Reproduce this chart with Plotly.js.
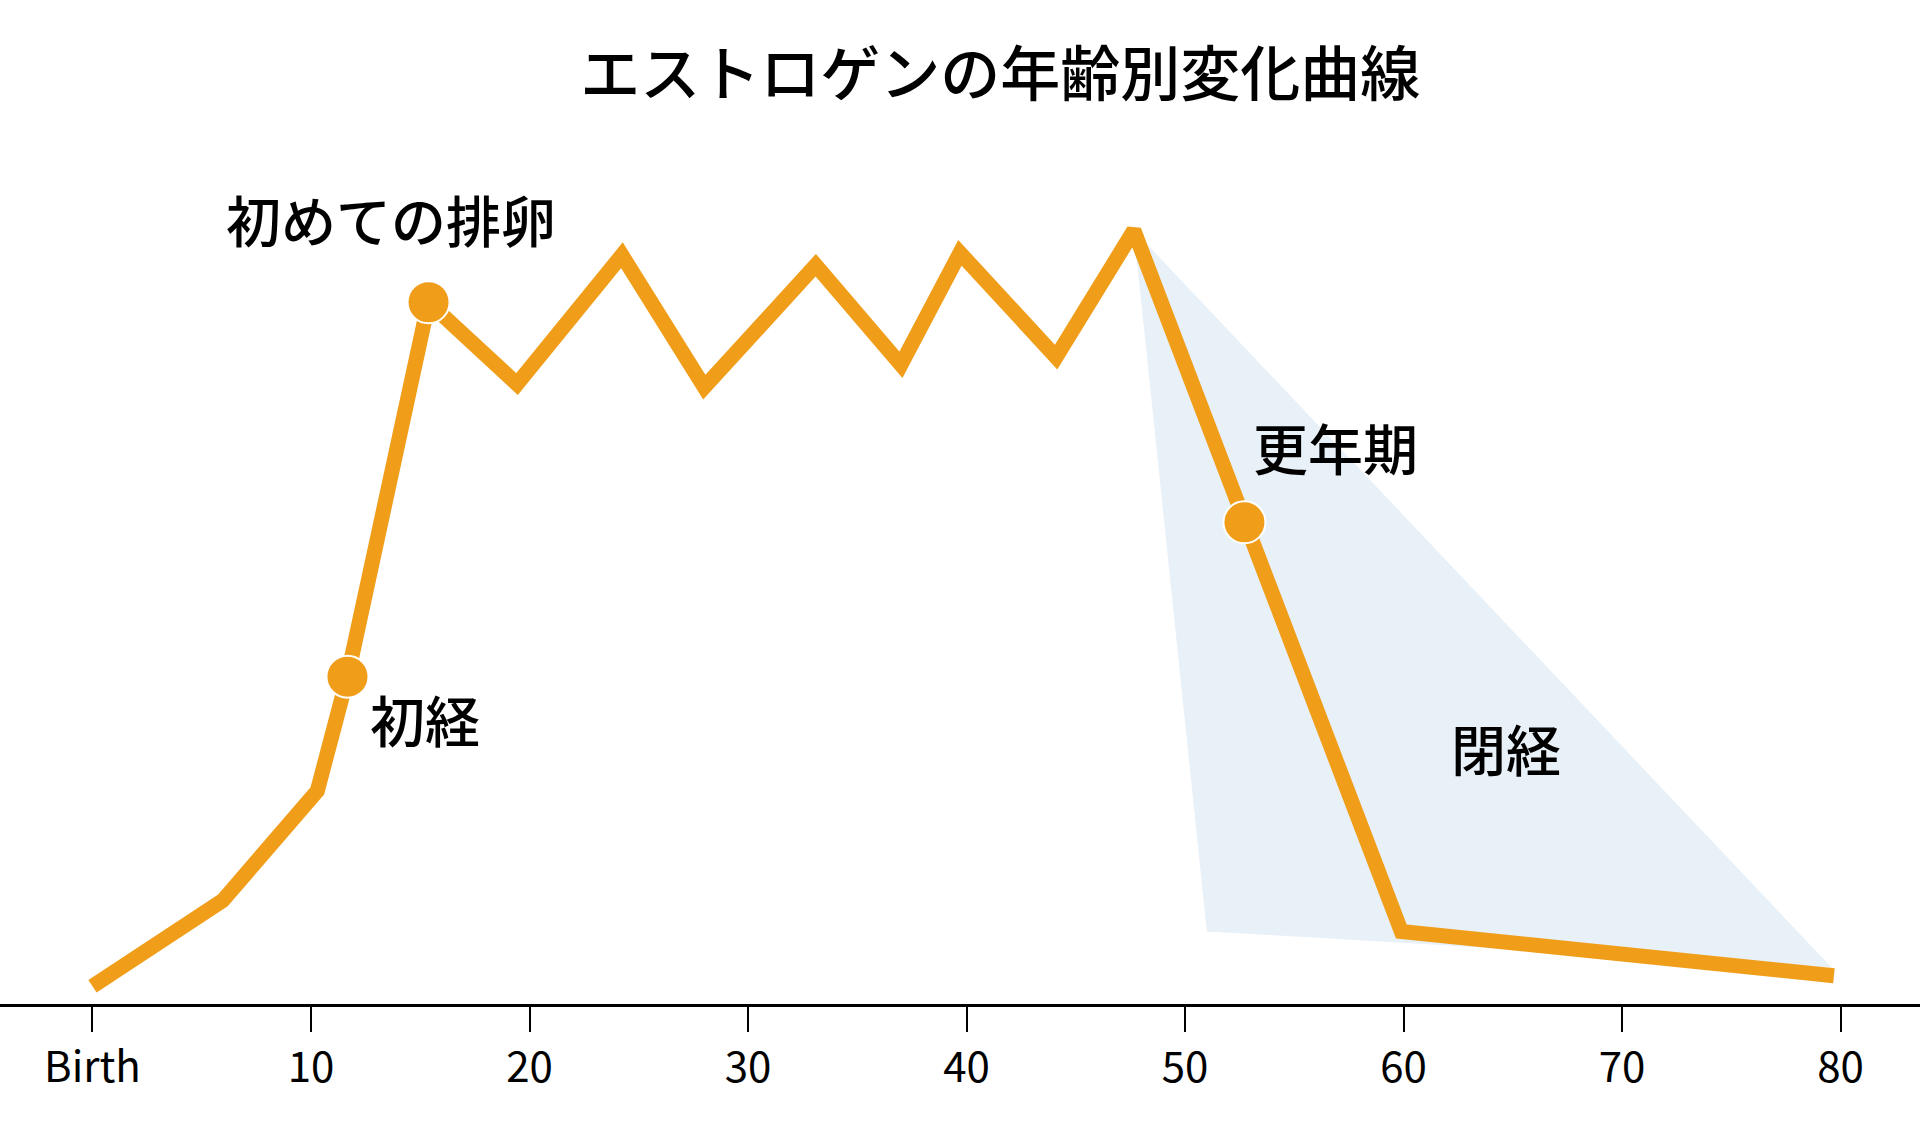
<!DOCTYPE html>
<html>
<head>
<meta charset="utf-8">
<script src="https://cdn.plot.ly/plotly-3.0.1.min.js"></script>
<style>html,body{margin:0;padding:0;background:#fff;}#chart{width:1920px;height:1122px;}</style>
</head>
<body>
<div id="chart"></div>
<script>
// Estrogen level (relative, peak = 100) by age
const ages   = [0, 5.96, 10.29, 11.67, 15.38, 19.43, 24.23, 28.0, 33.1, 37.0, 39.7, 44.1, 47.66, 52.72, 59.9, 79.7];
const levels = [2.3, 13.4, 27.6, 42.4, 90.9, 80.3, 97.0, 79.9, 95.7, 82.8, 97.3, 83.8, 100.2, 62.4, 9.4, 3.65];

// Milestones
const milestoneAges   = [11.67, 15.38, 52.72];
const milestoneLevels = [42.4, 90.9, 62.4];
const milestoneLabels = ["初経", "初めての排卵", "更年期"];
const labelAges   = [15.24, 13.66, 56.91];
const labelLevels = [37.0, 101.8, 72.3];

// Menopause zone (shaded)
const zoneAges   = [47.66, 51.0, 79.6];
const zoneLevels = [100.2, 9.4, 4.7];
const zoneLabel = "閉経";
const zoneLabelAge = 64.69, zoneLabelLevel = 33.3;

// Axis ticks
const tickVals = [0, 10, 20, 30, 40, 50, 60, 70, 80];
const tickText = ["Birth", "10", "20", "30", "40", "50", "60", "70", "80"];

const title = "エストロゲンの年齢別変化曲線";

const ORANGE = "#F09E1A";
const FONT = "'Noto Sans CJK JP', 'Noto Sans', sans-serif";

const traces = [
  {
    x: zoneAges, y: zoneLevels, type: "scatter", mode: "lines",
    fill: "toself", fillcolor: "#E8F0F8", line: {width: 0, color: "rgba(0,0,0,0)"},
    hoverinfo: "skip", showlegend: false
  },
  {
    x: ages, y: levels, type: "scatter", mode: "lines",
    line: {color: ORANGE, width: 15}, showlegend: false
  },
  {
    x: milestoneAges, y: milestoneLevels, type: "scatter", mode: "markers",
    marker: {size: 42, color: ORANGE, line: {color: "#ffffff", width: 2}}, showlegend: false
  }
];

const annotations = milestoneLabels.map((t, i) => ({
  x: labelAges[i], y: labelLevels[i], xref: "x", yref: "y",
  text: t, showarrow: false, xanchor: "center", yanchor: "middle",
  font: {family: FONT, size: 55, color: "#000", weight: 500}
}));
annotations.push({
  x: zoneLabelAge, y: zoneLabelLevel, xref: "x", yref: "y",
  text: zoneLabel, showarrow: false, xanchor: "center", yanchor: "middle",
  font: {family: FONT, size: 55, color: "#000", weight: 500}
});

const layout = {
  width: 1920, height: 1122,
  margin: {l: 0, r: 0, t: 100, b: 118},
  paper_bgcolor: "#fff", plot_bgcolor: "#fff",
  font: {family: FONT, color: "#000"},
  title: {
    text: title, x: 0.521, xref: "container", xanchor: "center",
    y: 1 - 75/1122, yref: "container", yanchor: "middle",
    font: {family: FONT, size: 60, color: "#000", weight: 500}
  },
  xaxis: {
    range: [-4.233, 83.638], showgrid: false, zeroline: false,
    showline: true, linecolor: "#000", linewidth: 3,
    ticks: "outside", ticklen: 25, tickwidth: 2, tickcolor: "#000",
    tickvals: tickVals, ticktext: tickText,
    tickfont: {family: FONT, size: 42, color: "#000"},
    fixedrange: true
  },
  yaxis: {
    range: [0, 117.1], visible: false, showgrid: false, zeroline: false, fixedrange: true
  },
  annotations: annotations,
  showlegend: false
};

Plotly.newPlot("chart", traces, layout, {displayModeBar: false, staticPlot: true});
</script>
</body>
</html>
